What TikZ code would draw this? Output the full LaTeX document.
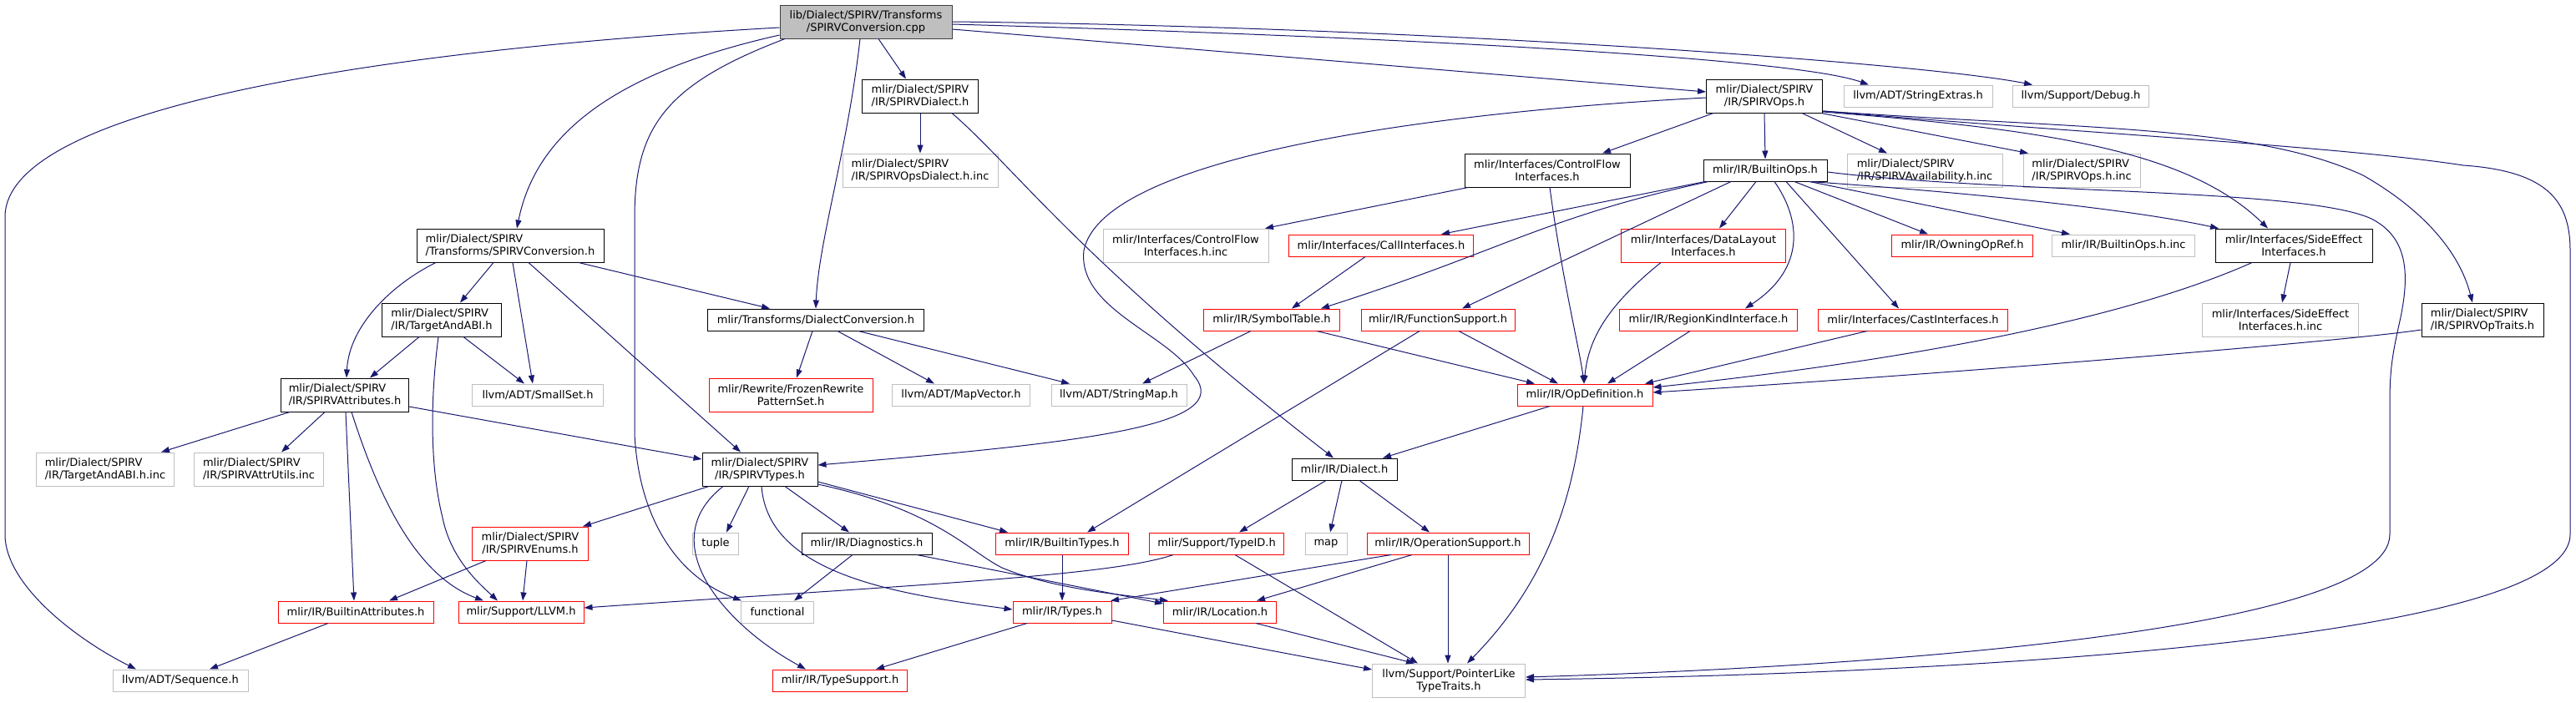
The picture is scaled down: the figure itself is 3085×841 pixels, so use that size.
\documentclass[tikz,border=0pt]{standalone}
\usepackage{fontspec}
\newfontfamily\dvs{DejaVu Sans}
\usetikzlibrary{arrows.meta}
\definecolor{edgec}{HTML}{191970}
\definecolor{grayb}{HTML}{BFBFBF}
\definecolor{rootb}{HTML}{404040}
\begin{document}
\begin{tikzpicture}[x=1pt,y=-1pt,font=\dvs\fontsize{13}{15}\selectfont,
  nb/.style={draw, inner sep=0pt, line width=1pt, fill=white, text=black},
  blk/.style={nb, draw=black},
  gry/.style={nb, draw=grayb},
  rd/.style={nb, draw=red},
  rt/.style={nb, draw=rootb, fill=grayb},
  sz/.style 2 args={minimum width=#1pt, minimum height=#2pt},
  dep/.style={draw=edgec, line width=1pt, -{Triangle[length=10pt,width=7pt]}}]
\useasboundingbox[fill=white] (0,0) rectangle (3085,841);
% nodes
\node[rt,sz={206}{40},align=center] (root) at (1037,26) {lib/Dialect/SPIRV/Transforms\\/SPIRVConversion.cpp};
\node[blk,sz={139}{40},align=left] (dialecth) at (1102,115) {mlir/Dialect/SPIRV\\/IR/SPIRVDialect.h};
\node[gry,sz={186}{40},align=left] (opsdialectinc) at (1102,204) {mlir/Dialect/SPIRV\\/IR/SPIRVOpsDialect.h.inc};
\node[blk,sz={139}{40},align=center] (ops) at (2113,115) {mlir/Dialect/SPIRV\\/IR/SPIRVOps.h};
\node[gry,sz={178}{26}] (strext) at (2297,115) {llvm/ADT/StringExtras.h};
\node[gry,sz={163}{26}] (debug) at (2492,115) {llvm/Support/Debug.h};
\node[blk,sz={198}{40},align=center] (cfi) at (1853,204) {mlir/Interfaces/ControlFlow\\Interfaces.h};
\node[blk,sz={148}{26}] (builtinops) at (2114,204) {mlir/IR/BuiltinOps.h};
\node[gry,sz={186}{40},align=left] (avail) at (2305,204) {mlir/Dialect/SPIRV\\/IR/SPIRVAvailability.h.inc};
\node[gry,sz={140}{40},align=left] (opsinc) at (2493,204) {mlir/Dialect/SPIRV\\/IR/SPIRVOps.h.inc};
\node[gry,sz={198}{40},align=center] (cfiinc) at (1420,294) {mlir/Interfaces/ControlFlow\\Interfaces.h.inc};
\node[rd,sz={221}{26}] (callif) at (1654,294) {mlir/Interfaces/CallInterfaces.h};
\node[rd,sz={197}{40},align=center] (datalayout) at (2040,294) {mlir/Interfaces/DataLayout\\Interfaces.h};
\node[rd,sz={169}{26}] (owning) at (2350,294) {mlir/IR/OwningOpRef.h};
\node[gry,sz={171}{26}] (builtinopsinc) at (2543,294) {mlir/IR/BuiltinOps.h.inc};
\node[blk,sz={188}{40},align=center] (sideeff) at (2747,294) {mlir/Interfaces/SideEffect\\Interfaces.h};
\node[blk,sz={224}{40},align=left] (conv) at (611,294) {mlir/Dialect/SPIRV\\/Transforms/SPIRVConversion.h};
\node[blk,sz={143}{40},align=left] (tabi) at (529,383) {mlir/Dialect/SPIRV\\/IR/TargetAndABI.h};
\node[blk,sz={259}{26}] (dconv) at (977,383) {mlir/Transforms/DialectConversion.h};
\node[blk,sz={153}{40},align=left] (attrs) at (413,473) {mlir/Dialect/SPIRV\\/IR/SPIRVAttributes.h};
\node[gry,sz={157}{26}] (smallset) at (644,473) {llvm/ADT/SmallSet.h};
\node[rd,sz={196}{40},align=center] (frozen) at (947,473) {mlir/Rewrite/FrozenRewrite\\PatternSet.h};
\node[gry,sz={165}{26}] (mapvec) at (1151,473) {llvm/ADT/MapVector.h};
\node[gry,sz={162}{26}] (strmap) at (1340,473) {llvm/ADT/StringMap.h};
\node[rd,sz={163}{26}] (symtab) at (1523,383) {mlir/IR/SymbolTable.h};
\node[rd,sz={184}{26}] (funcsup) at (1722,383) {mlir/IR/FunctionSupport.h};
\node[rd,sz={213}{26}] (regionkind) at (2046,383) {mlir/IR/RegionKindInterface.h};
\node[rd,sz={227}{26}] (cast) at (2291,383) {mlir/Interfaces/CastInterfaces.h};
\node[gry,sz={187}{40},align=center] (sideeffinc) at (2731,383) {mlir/Interfaces/SideEffect\\Interfaces.h.inc};
\node[blk,sz={146}{40},align=left] (optraits) at (2973,383) {mlir/Dialect/SPIRV\\/IR/SPIRVOpTraits.h};
\node[rd,sz={162}{26}] (opdef) at (1898,473) {mlir/IR/OpDefinition.h};
\node[blk,sz={126}{26}] (dialect) at (1610,562) {mlir/IR/Dialect.h};
\node[gry,sz={165}{40},align=left] (tabiinc) at (126,562) {mlir/Dialect/SPIRV\\/IR/TargetAndABI.h.inc};
\node[gry,sz={155}{40},align=left] (attrutils) at (310,562) {mlir/Dialect/SPIRV\\/IR/SPIRVAttrUtils.inc};
\node[blk,sz={138}{40},align=center] (types) at (910,562) {mlir/Dialect/SPIRV\\/IR/SPIRVTypes.h};
\node[rd,sz={139}{40},align=center] (enums) at (635,651) {mlir/Dialect/SPIRV\\/IR/SPIRVEnums.h};
\node[gry,sz={55}{26}] (tuple) at (857,651) {tuple};
\node[blk,sz={156}{26}] (diag) at (1038,651) {mlir/IR/Diagnostics.h};
\node[rd,sz={159}{26}] (btypes) at (1272,651) {mlir/IR/BuiltinTypes.h};
\node[rd,sz={161}{26}] (typeid) at (1457,651) {mlir/Support/TypeID.h};
\node[gry,sz={50}{26}] (map) at (1588,651) {map};
\node[rd,sz={194}{26}] (opsupport) at (1734,651) {mlir/IR/OperationSupport.h};
\node[rd,sz={186}{26}] (battrs) at (426,733) {mlir/IR/BuiltinAttributes.h};
\node[rd,sz={150}{26}] (llvmh) at (624,733) {mlir/Support/LLVM.h};
\node[gry,sz={87}{26}] (functional) at (931,733) {functional};
\node[rd,sz={118}{26}] (irtypes) at (1272,733) {mlir/IR/Types.h};
\node[rd,sz={135}{26}] (location) at (1461,733) {mlir/IR/Location.h};
\node[gry,sz={162}{26}] (sequence) at (216,815) {llvm/ADT/Sequence.h};
\node[rd,sz={161}{26}] (typesupport) at (1006,815) {mlir/IR/TypeSupport.h};
\node[gry,sz={183}{40},align=center] (ptrlike) at (1735,815) {llvm/Support/PointerLike\\TypeTraits.h};
% edges from root
\draw[dep] ([yshift=-7]root.west) .. controls (450,60) and (6,130) .. (6,260) -- (6,640) .. controls (6,700) and (90,765) .. ([xshift=-53]sequence.north);
\draw[dep] ([yshift=-16]root.west) .. controls (720,90) and (640,170) .. ([xshift=8]conv.north);
\draw[dep] ([xshift=-97]root.south) .. controls (800,100) and (760,150) .. (760,260) -- (760,520) .. controls (765,620) and (810,690) .. ([xshift=-43]functional.north);
\draw[dep] ([xshift=-7]root.south) .. controls (1015,180) and (980,290) .. (dconv.north);
\draw[dep] ([xshift=15]root.south) -- ([xshift=-17]dialecth.north);
\draw[dep] ([yshift=-9]root.east) -- ([yshift=5]ops.west);
\draw[dep] ([yshift=-3]root.east) .. controls (1700,45) and (2150,70) .. ([xshift=-59]strext.north);
\draw[dep] (root.east) .. controls (1700,32) and (2300,75) .. ([xshift=-58]debug.north);
% SPIRVOps.h
\draw[dep] ([yshift=-18]ops.east) .. controls (2500,160) and (2800,175) .. (2950,198) .. controls (3050,205) and (3078,240) .. (3078,300) -- (3078,640) .. controls (3078,770) and (2300,808) .. ([yshift=1]ptrlike.east);
\draw[dep] ([yshift=-18]ops.east) .. controls (2500,155) and (2700,150) .. (2830,210) .. controls (2900,250) and (2945,300) .. ([xshift=-12]optraits.north);
\draw[dep] ([yshift=-19]ops.east) .. controls (2450,155) and (2620,180) .. ([xshift=-31]sideeff.north);
\draw[dep] ([yshift=-2]ops.west) .. controls (1700,135) and (1320,190) .. (1298,300) .. controls (1290,370) and (1400,400) .. (1430,450) .. controls (1480,510) and (1300,530) .. ([yshift=5]types.east);
\draw[dep] ([xshift=-61]ops.south) -- ([xshift=66]cfi.north);
\draw[dep] (ops.south) -- (builtinops.north);
\draw[dep] ([xshift=45]ops.south) -- ([xshift=-45]avail.north);
\draw[dep] ([xshift=68]ops.south) -- ([xshift=-64]opsinc.north);
% SPIRVDialect.h
\draw[dep] (dialecth.south) -- (opsdialectinc.north);
\draw[dep] ([xshift=38]dialecth.south) .. controls (1215,200) and (1290,310) .. ([xshift=-13]dialect.north);
% ControlFlowInterfaces.h
\draw[dep] ([xshift=-95]cfi.south) -- ([xshift=95]cfiinc.north);
\draw[dep] ([xshift=3]cfi.south) .. controls (1870,330) and (1892,420) .. ([xshift=-1]opdef.north);
% BuiltinOps.h
\draw[dep] ([yshift=-2]builtinops.east) .. controls (2400,232) and (2760,225) .. (2840,262) .. controls (2885,285) and (2885,330) .. (2875,380) .. controls (2866,420) and (2862,440) .. (2862,480) -- (2862,640) .. controls (2862,760) and (2200,800) .. ([yshift=4]ptrlike.east);
\draw[dep] ([xshift=-72]builtinops.south) -- ([xshift=72]callif.north);
\draw[dep] ([xshift=-68]builtinops.south) .. controls (1850,260) and (1800,300) .. ([xshift=59]symtab.north);
\draw[dep] ([xshift=-41]builtinops.south) -- ([xshift=29]funcsup.north);
\draw[dep] ([xshift=-11]builtinops.south) -- ([xshift=19]datalayout.north);
\draw[dep] ([xshift=11]builtinops.south) .. controls (2155,260) and (2165,320) .. ([xshift=44]regionkind.north);
\draw[dep] ([xshift=25]builtinops.south) -- ([xshift=-17]cast.north);
\draw[dep] ([xshift=35]builtinops.south) -- ([xshift=-41]owning.north);
\draw[dep] ([xshift=53]builtinops.south) -- ([xshift=-64]builtinopsinc.north);
\draw[dep] ([xshift=53]builtinops.south) .. controls (2350,230) and (2550,250) .. ([xshift=-90]sideeff.north);
% SideEffect / traits / others to OpDefinition
\draw[dep] ([xshift=-4]sideeff.south) -- ([xshift=2]sideeffinc.north);
\draw[dep] ([xshift=-50]sideeff.south) .. controls (2550,380) and (2300,430) .. ([yshift=9]opdef.east);
\draw[dep] ([yshift=-12]optraits.west) .. controls (2800,410) and (2300,450) .. ([yshift=3]opdef.east);
\draw[dep] ([xshift=-55]cast.south) -- ([xshift=72]opdef.north);
\draw[dep] ([xshift=-22]regionkind.south) -- ([xshift=27]opdef.north);
\draw[dep] ([xshift=-51]datalayout.south) .. controls (1920,370) and (1902,410) .. ([xshift=-1]opdef.north);
\draw[dep] ([xshift=-19]callif.south) -- ([xshift=24]symtab.north);
\draw[dep] ([xshift=-25]symtab.south) -- ([xshift=28]strmap.north);
\draw[dep] ([xshift=54]symtab.south) -- ([xshift=-60]opdef.north);
\draw[dep] ([xshift=25]funcsup.south) -- ([xshift=-32]opdef.north);
\draw[dep] ([xshift=-22]funcsup.south) -- ([xshift=30]btypes.north);
% DialectConversion.h
\draw[dep] ([xshift=-4]dconv.south) -- ([xshift=7]frozen.north);
\draw[dep] ([xshift=26]dconv.south) -- ([xshift=-32]mapvec.north);
\draw[dep] ([xshift=51]dconv.south) -- ([xshift=-59]strmap.north);
% SPIRVConversion.h
\draw[dep] ([xshift=-89]conv.south) .. controls (470,340) and (418,390) .. ([xshift=2]attrs.north);
\draw[dep] ([xshift=-20]conv.south) -- ([xshift=22]tabi.north);
\draw[dep] ([xshift=3]conv.south) -- ([xshift=-6]smallset.north);
\draw[dep] ([xshift=22]conv.south) -- ([xshift=-23]types.north);
\draw[dep] ([xshift=82]conv.south) -- ([xshift=-55]dconv.north);
% TargetAndABI.h
\draw[dep] ([xshift=-27]tabi.south) -- ([xshift=30]attrs.north);
\draw[dep] ([xshift=26]tabi.south) -- ([xshift=-16]smallset.north);
\draw[dep] ([xshift=-4]tabi.south) .. controls (515,480) and (515,560) .. (530,620) .. controls (540,670) and (575,700) .. ([xshift=-28]llvmh.north);
% SPIRVAttributes.h
\draw[dep] ([xshift=-66]attrs.south) -- ([xshift=67]tabiinc.north);
\draw[dep] ([xshift=-24]attrs.south) -- ([xshift=27]attrutils.north);
\draw[dep] ([xshift=1]attrs.south) -- ([xshift=-2]battrs.north);
\draw[dep] ([xshift=8]attrs.south) .. controls (455,600) and (500,690) .. ([xshift=-45]llvmh.north);
\draw[dep] ([yshift=-14]attrs.east) -- ([yshift=12]types.west);
% SPIRVTypes.h
\draw[dep] ([xshift=-61]types.south) -- ([xshift=63]enums.north);
\draw[dep] ([xshift=-44]types.south) .. controls (780,650) and (870,750) .. ([xshift=-41]typesupport.north);
\draw[dep] ([xshift=-13]types.south) -- ([xshift=13]tuple.north);
\draw[dep] ([xshift=30]types.south) -- ([xshift=-21]diag.north);
\draw[dep] ([xshift=2]types.south) .. controls (920,690) and (1080,712) .. ([yshift=3]irtypes.west);
\draw[dep] ([yshift=-15]types.east) -- ([xshift=-65]btypes.north);
\draw[dep] ([yshift=-18]types.east) .. controls (1120,610) and (1160,660) .. (1200,680) .. controls (1260,705) and (1340,712) .. ([xshift=-62]location.north);
% Diagnostics, Enums, BuiltinAttributes
\draw[dep] ([xshift=-17]diag.south) -- ([xshift=20]functional.north);
\draw[dep] ([xshift=60]diag.south) -- ([yshift=10]location.west);
\draw[dep] ([xshift=-53]enums.south) -- ([xshift=40]battrs.north);
\draw[dep] ([xshift=-4]enums.south) -- ([xshift=2]llvmh.north);
\draw[dep] ([xshift=-33]battrs.south) -- ([xshift=35]sequence.north);
% Dialect.h, OpDefinition.h
\draw[dep] ([xshift=-22]dialect.south) -- ([xshift=27]typeid.north);
\draw[dep] ([xshift=-3]dialect.south) -- ([xshift=5]map.north);
\draw[dep] ([xshift=18]dialect.south) -- ([xshift=-22]opsupport.north);
\draw[dep] ([xshift=-42]opdef.south) -- ([xshift=46]dialect.north);
\draw[dep] ([xshift=-2]opdef.south) .. controls (1885,600) and (1850,700) .. ([xshift=22]ptrlike.north);
% OperationSupport, TypeID, Types, Location
\draw[dep] ([xshift=-68]opsupport.south) -- ([xshift=58]irtypes.north);
\draw[dep] ([xshift=-43]opsupport.south) -- ([xshift=44]location.north);
\draw[dep] (opsupport.south) -- ([xshift=-1]ptrlike.north);
\draw[dep] ([xshift=-52]typeid.south) .. controls (1330,690) and (1100,700) .. ([yshift=5]llvmh.east);
\draw[dep] ([xshift=22]typeid.south) -- ([xshift=-37]ptrlike.north);
\draw[dep] (btypes.south) -- (irtypes.north);
\draw[dep] ([xshift=-42]irtypes.south) -- ([xshift=43]typesupport.north);
\draw[dep] ([yshift=-10]irtypes.east) -- ([yshift=13]ptrlike.west);
\draw[dep] ([xshift=43]location.south) -- ([xshift=-41]ptrlike.north);
\end{tikzpicture}
\end{document}
